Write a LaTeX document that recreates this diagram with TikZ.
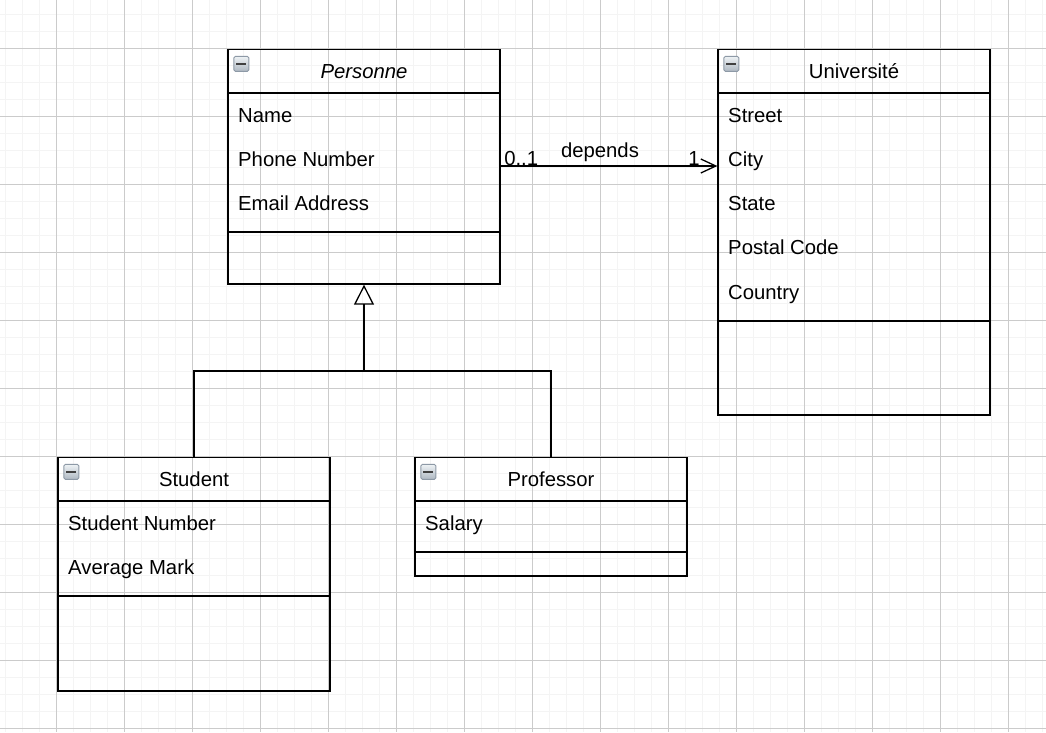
\documentclass[tikz,border=0pt]{standalone}
\usepackage{fontspec}
\setmainfont{Liberation Sans}
\usetikzlibrary{arrows.meta}
\definecolor{minorgrid}{HTML}{F4F4F4}
\definecolor{majorgrid}{HTML}{CBCBCB}
\definecolor{iconedge}{HTML}{8D99A6}
\definecolor{icontop}{HTML}{EEF2F5}
\definecolor{iconbot}{HTML}{AEB8C2}

\begin{document}
\begin{tikzpicture}[x=1pt, y=-1pt,
    every node/.style={font=\fontsize{20.3}{24}\selectfont},
    minor/.style={minorgrid, line width=1.5pt},
    major/.style={majorgrid, line width=1pt},
    head/.style={draw, line width=1.3pt, rectangle, inner sep=0pt, minimum width=272pt, minimum height=44pt, text height=13pt, text depth=0pt},
    comp/.style={draw, line width=1.3pt, rectangle, inner sep=0pt, minimum width=272pt},
    attr/.style={anchor=base west, inner sep=0pt},
    icon/.style={draw=iconedge, line width=0.8pt, rounded corners=1.5pt, top color=icontop, bottom color=iconbot, minimum size=15pt, inner sep=0pt,
      path picture={\draw[black!75, line width=2.5pt] ([xshift=-5pt]path picture bounding box.center) -- ([xshift=5pt]path picture bounding box.center);}},
    isa/.style={line width=1.3pt, -{Triangle[open, length=20pt, width=20pt]}},
    assoc/.style={line width=1.3pt, -{Straight Barb[length=15pt, width=14pt]}}]

    \useasboundingbox (0,0) rectangle (1046,732);
    \foreach \x in {5.5,22.5,...,1046} \draw [minor] (\x,0) -- (\x,732);
    \foreach \y in {14.5,31.5,...,732} \draw [minor] (0,\y) -- (1046,\y);
    \foreach \x in {56.5,124.5,...,1046} \draw [major] (\x,0) -- (\x,732);
    \foreach \y in {48.5,116.5,...,732} \draw [major] (0,\y) -- (1046,\y);

    \node [head] (a) at (364, 71.5) {\textit{Personne}};
    \node [comp, minimum height=139pt] (b) at (364, 162.5) {};
    \node [comp, minimum height=52pt] (c) at (364, 258) {};
    \node [icon] (d) at ([xshift=14pt, yshift=-15pt]a.north west) {};
    \node [attr] (e) at (238, 122.5) {Name};
    \node [attr] (f) at (238, 166.5) {Phone Number};
    \node [attr] (g) at (238, 210.5) {Email Address};

    \node [head] (h) at (854, 71.5) {Université};
    \node [comp, minimum height=228pt] (i) at (854, 207) {};
    \node [comp, minimum height=94pt] (j) at (854, 368) {};
    \node [icon] (k) at ([xshift=14pt, yshift=-15pt]h.north west) {};
    \node [attr] (l) at (728, 122.5) {Street};
    \node [attr] (m) at (728, 166.5) {City};
    \node [attr] (n) at (728, 210.5) {State};
    \node [attr] (o) at (728, 254.5) {Postal Code};
    \node [attr] (p) at (728, 299.5) {Country};

    \node [head] (q) at (194, 479.5) {Student};
    \node [comp, minimum height=95pt] (r) at (194, 548.5) {};
    \node [comp, minimum height=95pt] (s) at (194, 643.5) {};
    \node [icon] (t) at ([xshift=14pt, yshift=-15pt]q.north west) {};
    \node [attr] (u) at (68, 530.5) {Student Number};
    \node [attr] (v) at (68, 574.5) {Average Mark};

    \node [head] (w) at (551, 479.5) {Professor};
    \node [comp, minimum height=51pt] (x) at (551, 526.5) {};
    \node [comp, minimum height=24pt] (y) at (551, 564) {};
    \node [icon] (z) at ([xshift=14pt, yshift=-15pt]w.north west) {};
    \node [attr] (aa) at (425, 530.5) {Salary};

    \coordinate (ab) at (364, 371);
    \draw [line width=1.3pt] (q.north) |- (ab);
    \draw [line width=1.3pt] (w.north) |- (ab);
    \draw [isa] (ab) -- (c.south);

    \draw [assoc] (b.east |- 0,166) --
      node[pos=0, anchor=base west, inner sep=0pt, xshift=3pt, yshift=1pt] {0..1}
      node[pos=0.5, anchor=base, inner sep=0pt, xshift=-9pt, yshift=8.3pt] {depends}
      node[pos=1, anchor=base east, inner sep=0pt, xshift=-17pt, yshift=1pt] {1}
      (i.west |- 0,166);

\end{tikzpicture}
\end{document}
